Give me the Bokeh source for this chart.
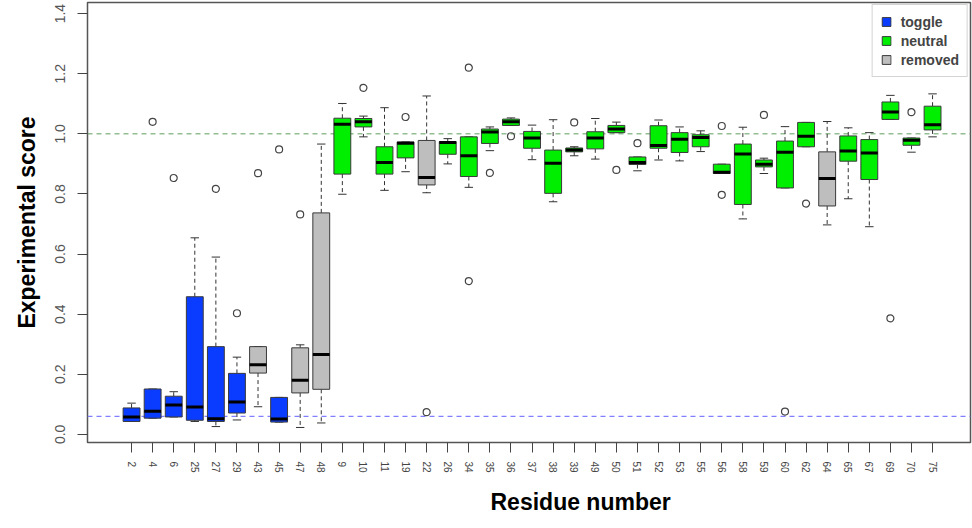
import numpy as np
from bokeh.plotting import figure
from bokeh.models import (Range1d, FixedTicker, Span, Title, ColumnDataSource,
                          Legend, LegendItem, PrintfTickFormatter)
from bokeh.embed import file_html
from bokeh.resources import INLINE

residues = ["2", "4", "6", "25", "27", "29", "43", "45", "47", "48", "9", "10", "11",
            "19", "22", "26", "34", "35", "36", "37", "38", "39", "49", "50", "51",
            "52", "53", "55", "56", "58", "59", "60", "62", "64", "65", "67", "69",
            "70", "75"]
groups = ["toggle", "toggle", "toggle", "toggle", "toggle", "toggle", "removed", "toggle",
          "removed", "removed", "neutral", "neutral", "neutral", "neutral", "removed",
          "neutral", "neutral", "neutral", "neutral", "neutral", "neutral", "neutral",
          "neutral", "neutral", "neutral", "neutral", "neutral", "neutral", "neutral",
          "neutral", "neutral", "neutral", "neutral", "removed", "neutral", "neutral",
          "neutral", "neutral", "neutral"]
lower = [0.043, 0.054, 0.058, 0.043, 0.026, 0.048, 0.092, 0.041, 0.023, 0.038, 0.799,
         0.990, 0.812, 0.874, 0.804, 0.900, 0.822, 0.944, 1.028, 0.914, 0.774, 0.927,
         0.916, 1.004, 0.877, 0.913, 0.910, 0.941, 0.868, 0.717, 0.868, 0.820, 0.957,
         0.697, 0.784, 0.691, 1.048, 0.939, 0.990]
q1 = [0.043, 0.054, 0.058, 0.047, 0.043, 0.071, 0.204, 0.041, 0.138, 0.150, 0.866,
      1.023, 0.866, 0.920, 0.830, 0.932, 0.858, 0.968, 1.028, 0.952, 0.802, 0.940,
      0.950, 1.004, 0.898, 0.952, 0.938, 0.957, 0.868, 0.765, 0.890, 0.820, 0.957,
      0.760, 0.909, 0.848, 1.048, 0.962, 1.013]
median = [0.058, 0.077, 0.098, 0.091, 0.052, 0.108, 0.232, 0.051, 0.180, 0.266, 1.032,
          1.040, 0.905, 0.969, 0.855, 0.971, 0.927, 1.006, 1.040, 0.986, 0.902, 0.946,
          0.986, 1.016, 0.905, 0.961, 0.982, 0.988, 0.872, 0.933, 0.899, 0.939, 0.992,
          0.851, 0.943, 0.936, 1.073, 0.979, 1.030]
q3 = [0.088, 0.151, 0.127, 0.458, 0.292, 0.203, 0.292, 0.123, 0.288, 0.737, 1.052,
      1.051, 0.957, 0.973, 0.978, 0.974, 0.990, 1.016, 1.049, 1.008, 0.946, 0.953,
      1.007, 1.028, 0.923, 1.027, 1.004, 0.997, 0.899, 0.966, 0.913, 0.976, 1.038,
      0.940, 0.993, 0.981, 1.106, 0.986, 1.092]
upper = [0.104, 0.151, 0.142, 0.654, 0.590, 0.257, 0.292, 0.123, 0.298, 0.966, 1.101,
         1.059, 1.087, 0.973, 1.126, 0.984, 0.990, 1.023, 1.053, 1.029, 1.047, 0.957,
         1.051, 1.039, 0.923, 1.046, 1.023, 1.010, 0.899, 1.022, 0.919, 1.024, 1.038,
         1.041, 1.020, 1.004, 1.128, 0.986, 1.133]
outlier_residues = ["4", "6", "27", "29", "43", "45", "47", "10", "19", "22", "34", "34",
                    "35", "36", "39", "50", "51", "56", "56", "59", "60", "62", "69", "70"]
outlier_values = [1.040, 0.853, 0.817, 0.403, 0.869, 0.948, 0.732, 1.153, 1.056, 0.074,
                  1.220, 0.510, 0.870, 0.992, 1.038, 0.880, 0.969, 1.026, 0.797, 1.063,
                  0.076, 0.768, 0.386, 1.072]
y_ticks = [0.0, 0.2, 0.4, 0.6, 0.8, 1.0, 1.2, 1.4]
group_names = ["toggle", "neutral", "removed"]
group_colors = {"toggle": "#0a3cff", "neutral": "#00ee00", "removed": "#bebebe"}

FONT = "Liberation Sans"
pos = np.arange(1, len(residues) + 1, dtype=float)
box_w = 0.8
cap_w = 0.4

p = figure(width=972, height=528, x_range=Range1d(-1.09, 40.8),
           y_range=Range1d(-0.027, 1.437), output_backend="svg",
           toolbar_location=None, min_border_left=87, min_border_right=2,
           min_border_top=2, min_border_bottom=86)
p.xgrid.visible = False
p.ygrid.visible = False
p.outline_line_color = "#555555"
p.outline_line_width = 1.5
p.background_fill_color = "white"

# reference lines
p.add_layout(Span(location=1.0, dimension="width", line_color="#5f9f5f",
                  line_dash="5 4", line_width=1, level="underlay"))
p.add_layout(Span(location=0.06, dimension="width", line_color="#7f7fff",
                  line_dash="5 4", line_width=1.2, level="underlay"))

src = ColumnDataSource(dict(x=pos, lo=lower, q1=q1, med=median, q3=q3, hi=upper,
                            xl=pos - box_w / 2, xr=pos + box_w / 2,
                            cl=pos - cap_w / 2, cr=pos + cap_w / 2))
# whiskers
p.segment(x0="x", y0="q3", x1="x", y1="hi", source=src, line_color="#333333",
          line_dash="4 3", line_width=1)
p.segment(x0="x", y0="q1", x1="x", y1="lo", source=src, line_color="#333333",
          line_dash="4 3", line_width=1)
p.segment(x0="cl", y0="hi", x1="cr", y1="hi", source=src, line_color="#333333", line_width=1)
p.segment(x0="cl", y0="lo", x1="cr", y1="lo", source=src, line_color="#333333", line_width=1)

# boxes by group
renderers = {}
for g in group_names:
    idx = [i for i, gg in enumerate(groups) if gg == g]
    s = ColumnDataSource(dict(x=pos[idx], q1=[q1[i] for i in idx], q3=[q3[i] for i in idx]))
    renderers[g] = p.vbar(x="x", bottom="q1", top="q3", width=box_w, source=s,
                          fill_color=group_colors[g], line_color="#3a3a3a", line_width=1)

# medians
p.segment(x0="xl", y0="med", x1="xr", y1="med", source=src, line_color="black",
          line_width=3)

# outliers
ox = [pos[residues.index(r)] for r in outlier_residues]
p.scatter(x=ox, y=outlier_values, marker="circle", size=7, fill_color=None,
          line_color="#444444", line_width=1.2)

# axes
p.xaxis.ticker = FixedTicker(ticks=list(pos))
p.xaxis.major_label_overrides = {int(v): r for v, r in zip(pos, residues)}
p.xaxis.major_label_orientation = "vertical"
p.xaxis.major_label_text_font = FONT
p.xaxis.major_label_text_font_size = "10px"
p.xaxis.major_label_text_color = "#444444"
p.xaxis.major_label_standoff = 9
p.xaxis.axis_line_color = None
p.xaxis.major_tick_in = 0
p.xaxis.major_tick_out = 10
p.xaxis.major_tick_line_color = "#444444"
p.xaxis.minor_tick_line_color = None

p.yaxis.ticker = FixedTicker(ticks=y_ticks)
p.yaxis.formatter = PrintfTickFormatter(format="%.1f")
p.yaxis.major_label_orientation = "vertical"
p.yaxis.major_label_text_font = FONT
p.yaxis.major_label_text_font_size = "14px"
p.yaxis.major_label_text_color = "#555555"
p.yaxis.major_label_standoff = 12
p.yaxis.axis_line_color = None
p.yaxis.major_tick_in = 0
p.yaxis.major_tick_out = 10
p.yaxis.major_tick_line_color = "#444444"
p.yaxis.minor_tick_line_color = None
p.yaxis.axis_label = "Experimental score"
p.yaxis.axis_label_text_font = FONT
p.yaxis.axis_label_text_font_size = "23px"
p.yaxis.axis_label_text_font_style = "bold"
p.yaxis.axis_label_text_color = "black"
p.yaxis.axis_label_standoff = 13

# x-axis title in the bottom panel, shifted right of centre as in the reference
p.add_layout(Title(text="Residue number", align="left", offset=403, standoff=22,
                   vertical_align="bottom",
                   text_font=FONT, text_font_size="23px", text_font_style="bold",
                   text_color="black"), "below")

legend = Legend(items=[LegendItem(label=g, renderers=[renderers[g]]) for g in group_names],
                location="top_right", margin=2, padding=8, spacing=2,
                glyph_width=11, glyph_height=11, label_standoff=9,
                label_text_font=FONT, label_text_font_size="14px",
                label_text_font_style="bold", label_height=17,
                border_line_color="#aaaaaa", background_fill_alpha=1)
p.add_layout(legend)

open("out.html", "w").write(file_html(p, INLINE))
